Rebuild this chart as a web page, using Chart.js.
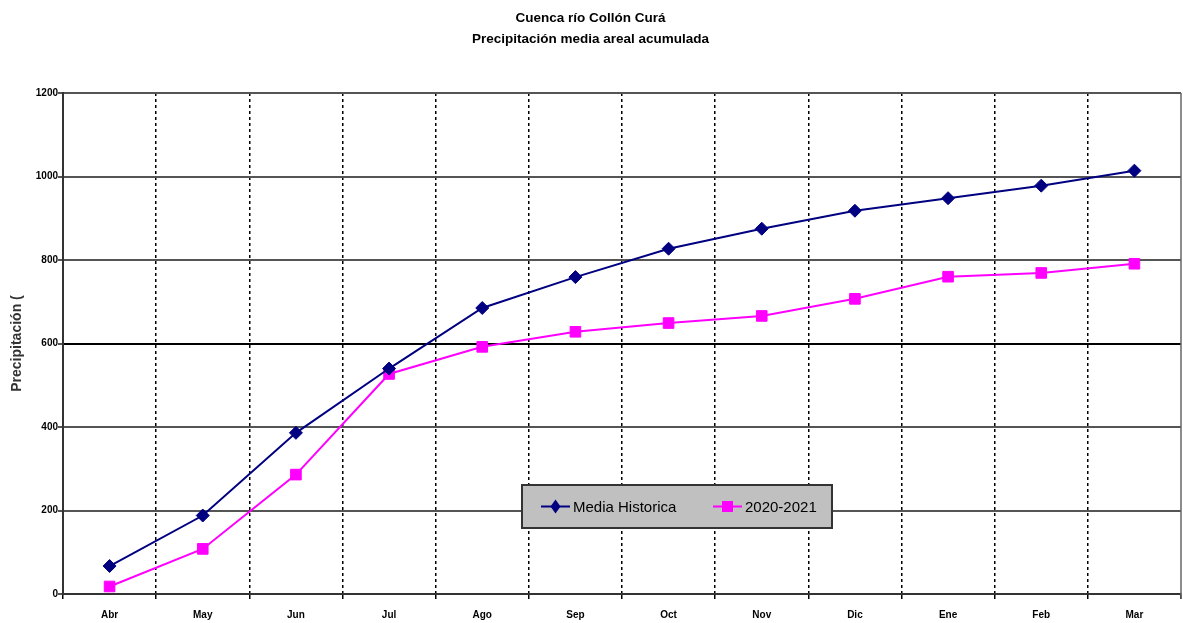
<!DOCTYPE html>
<html>
<head>
<meta charset="utf-8">
<script src="https://cdn.jsdelivr.net/npm/chart.js@4/dist/chart.umd.min.js"></script>
<style>
  html, body { margin: 0; padding: 0; background: #fff; }
  #wrap { width: 1183px; height: 623px; }
</style>
</head>
<body>
<div id="wrap"><canvas id="c" width="1183" height="623"></canvas></div>
<script>
// Monthly cumulative precipitation, hydrological year April–March
const months = ['Abr', 'May', 'Jun', 'Jul', 'Ago', 'Sep', 'Oct', 'Nov', 'Dic', 'Ene', 'Feb', 'Mar'];
const mediaHistorica = [67, 188, 386, 540, 685, 759, 827, 875, 918, 948, 978, 1014];
const temporada2020 = [18, 108, 286, 527, 592, 628, 649, 666, 707, 760, 769, 791];
const yTicks = [0, 200, 400, 600, 800, 1000, 1200];

const FONT = "'Liberation Sans Narrow', 'Liberation Sans', Arial, sans-serif";

// Solid frame line on the right side of the plot
const rightFrame = {
  id: 'rightFrame',
  beforeDatasetsDraw(chart) {
    const { ctx, chartArea: a } = chart;
    ctx.save();
    ctx.strokeStyle = '#666';
    ctx.lineWidth = 1.5;
    ctx.beginPath();
    ctx.moveTo(a.right, a.top);
    ctx.lineTo(a.right, a.bottom + 5);
    ctx.stroke();
    ctx.restore();
  }
};

// Boxed legend drawn inside the plot, near the lower middle
const boxLegend = {
  id: 'boxLegend',
  afterDraw(chart) {
    const ctx = chart.ctx;
    const area = chart.chartArea;
    const x0 = area.left + 459, y0 = area.top + 392, w = 310, h = 43;
    ctx.save();
    ctx.fillStyle = '#c0c0c0';
    ctx.fillRect(x0, y0, w, h);
    ctx.strokeStyle = '#333';
    ctx.lineWidth = 2;
    ctx.strokeRect(x0, y0, w, h);
    const cy = y0 + h / 2;
    const items = [{ ds: chart.data.datasets[0], x: x0 + 19 }, { ds: chart.data.datasets[1], x: x0 + 191 }];
    items.forEach(it => {
      const ds = it.ds;
      ctx.strokeStyle = ds.borderColor;
      ctx.lineWidth = 2;
      ctx.beginPath();
      ctx.moveTo(it.x, cy);
      ctx.lineTo(it.x + 29, cy);
      ctx.stroke();
      ctx.fillStyle = ds.borderColor;
      const mx = it.x + 14.5;
      ctx.beginPath();
      if (ds.pointStyle === 'rectRot') {
        ctx.moveTo(mx, cy - 7);
        ctx.lineTo(mx + 5, cy);
        ctx.lineTo(mx, cy + 7);
        ctx.lineTo(mx - 5, cy);
        ctx.closePath();
      } else {
        ctx.rect(mx - 5.5, cy - 5.5, 11, 11);
      }
      ctx.fill();
      ctx.fillStyle = '#000';
      ctx.font = '15px ' + FONT;
      ctx.textBaseline = 'middle';
      ctx.textAlign = 'left';
      ctx.fillText(ds.label, it.x + 32, cy + 1);
    });
    ctx.restore();
  }
};

new Chart(document.getElementById('c'), {
  type: 'line',
  data: {
    labels: months,
    datasets: [
      {
        label: 'Media Historica',
        data: mediaHistorica,
        borderColor: '#000080',
        backgroundColor: '#000080',
        borderWidth: 2,
        pointStyle: 'rectRot',
        pointRadius: 6.5,
        pointBorderWidth: 1,
        tension: 0
      },
      {
        label: '2020-2021',
        data: temporada2020,
        borderColor: '#ff00ff',
        backgroundColor: '#ff00ff',
        borderWidth: 2,
        pointStyle: 'rect',
        pointRadius: 7.5,
        pointBorderWidth: 1,
        tension: 0
      }
    ]
  },
  options: {
    responsive: false,
    animation: false,
    layout: { autoPadding: false, padding: { left: 0, right: 2, top: 0, bottom: 0 } },
    plugins: {
      legend: { display: false },
      tooltip: { enabled: false },
      title: {
        display: true,
        text: ['Cuenca río Collón Curá', 'Precipitación media areal acumulada'],
        color: '#000',
        font: { family: FONT, size: 13.5, weight: 'bold', lineHeight: 1.6 },
        padding: { top: 7, bottom: 42.8 }
      }
    },
    scales: {
      x: {
        offset: true,
        afterFit(scale) {
          scale.height = 29;
          scale.paddingLeft = 0;
          scale.paddingRight = 0;
        },
        grid: {
          offset: true,
          color: ctx => (ctx.tick ? '#000' : 'rgba(0,0,0,0)'),
          lineWidth: 1.5,
          tickLength: 5,
          tickColor: '#000',
          tickBorderDash: []
        },
        border: { display: true, color: '#333', width: 2, dash: [3, 3] },
        ticks: {
          color: '#000',
          padding: 10,
          font: { family: FONT, size: 10, weight: 'bold' }
        }
      },
      y: {
        min: 0,
        max: 1200,
        afterFit(scale) { scale.width = 63; },
        afterBuildTicks(scale) { scale.ticks = yTicks.map(v => ({ value: v })); },
        grid: {
          color: ctx => (ctx.tick && ctx.tick.value === 600 ? '#000' : '#555'),
          lineWidth: 2,
          tickLength: 5,
          tickColor: '#555'
        },
        border: { display: true, color: '#333', width: 2 },
        ticks: {
          color: '#000',
          padding: 0,
          font: { family: FONT, size: 10, weight: 'bold' },
          callback: v => String(v)
        },
        title: {
          display: true,
          text: 'Precipitación (',
          color: '#333',
          padding: { top: 9, bottom: 0 },
          font: { family: "'Liberation Sans', Arial, sans-serif", size: 14, weight: 'bold' }
        }
      }
    }
  },
  plugins: [rightFrame, boxLegend]
});
</script>
</body>
</html>
